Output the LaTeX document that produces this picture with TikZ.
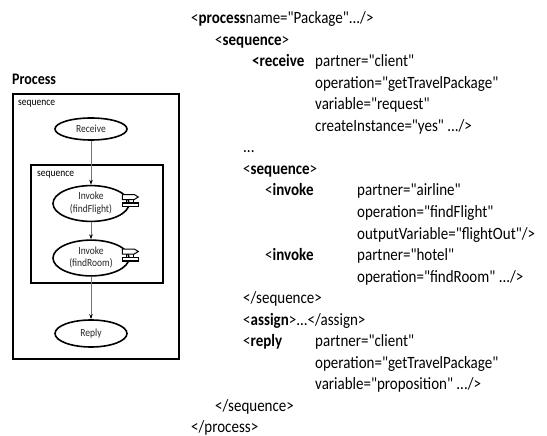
\documentclass[tikz,border=0pt]{standalone}
\usepackage{fontspec}
\setmainfont{Carlito}[Ligatures=TeXOff]
\usetikzlibrary{arrows.meta,shapes.geometric}

% the listing font is set a little taller than its natural shape
\newcommand{\stretchtxt}[1]{\scalebox{1}[1.15]{#1}}

\tikzset{
  frame/.style={draw=black, line width=2pt, inner sep=0pt, rectangle},
  activity/.style={ellipse, draw=black, line width=1.6pt, fill=white, inner sep=0pt,
    font=\fontsize{9.5}{11}\selectfont, text=black!85},
  seqlabel/.style={anchor=west, inner sep=0pt, font=\fontsize{9.5}{11}\selectfont},
  flow/.style={draw=black!55, line width=0.8pt,
    -{Stealth[length=5pt,width=3.5pt,black]}},
  code/.style={anchor=base west, inner sep=0pt, font=\fontsize{15}{18}\selectfont},
  svcicon/.pic={
    \draw[line width=1pt, fill=white] (-8,-6) -- (4,-6) -- (8,-3.5) -- (4,-1) -- (-8,-1) -- cycle;
    \draw[line width=1.3pt] (-4,-1) -- (-4,2.5) (3,-1) -- (3,2.5);
    \draw[line width=1.2pt, fill=white] (-8,2.5) rectangle (8,6);
  }
}

\begin{document}
\begin{tikzpicture}[x=1pt, y=-1pt]
\useasboundingbox (0,0) rectangle (547,436);

% ---- process view ----
\node[anchor=west, inner sep=0pt, font=\bfseries\fontsize{14}{16}\selectfont] (title) at (12,79) {\stretchtxt{Process}};
\node[frame, minimum width=166pt, minimum height=265pt] (outer) at (96,226.5) {};
\node[seqlabel] (outerlbl) at (18,104) {\stretchtxt{sequence}};
\node[frame, minimum width=132pt, minimum height=118pt] (inner) at (97,224) {};
\node[seqlabel] (innerlbl) at (37,175) {\stretchtxt{sequence}};

\node[activity, minimum width=72pt, minimum height=22pt] (recv) at (91,129) {\stretchtxt{Receive}};
\node[activity, minimum width=76pt, minimum height=32pt] (ff) at (91,203.5)
  {\stretchtxt{\begin{tabular}{@{}c@{}}Invoke\\(findFlight)\end{tabular}}};
\node[activity, minimum width=76pt, minimum height=30pt] (fr) at (91,258)
  {\stretchtxt{\begin{tabular}{@{}c@{}}Invoke\\(findRoom)\end{tabular}}};
\node[activity, minimum width=72pt, minimum height=27pt] (reply) at (91,333.5) {\stretchtxt{Reply}};

\pic at ([xshift=0.5pt, yshift=3pt]ff.east) {svcicon};
\pic at ([xshift=0.5pt, yshift=3pt]fr.east) {svcicon};

\draw[flow] (recv) -- (ff);
\draw[flow] (ff) -- (fr);
\draw[flow] (fr) -- (reply);

% ---- BPEL listing ----
\node[code] (c0)  at (191,24)    {\stretchtxt{<\textbf{process}name="Package".../>}};
\node[code] (c1)  at (215,45.5)  {\stretchtxt{<\textbf{sequence}>}};
\node[code] (c2)  at (252,67)    {\stretchtxt{\textbf{<receive}}};
\node[code] (c2a) at (315,67)    {\stretchtxt{partner="client"}};
\node[code] (c3)  at (315,88.5)  {\stretchtxt{operation="getTravelPackage"}};
\node[code] (c4)  at (315,110)   {\stretchtxt{variable="request"}};
\node[code] (c5)  at (315,131.5) {\stretchtxt{createInstance="yes" .../>}};
\node[code] (c6)  at (243,153)   {\stretchtxt{...}};
\node[code] (c7)  at (243,174.5) {\stretchtxt{<\textbf{sequence}>}};
\node[code] (c8)  at (265,196)   {\stretchtxt{<\textbf{invoke}}};
\node[code] (c8a) at (357,196)   {\stretchtxt{partner="airline"}};
\node[code] (c9)  at (357,217.5) {\stretchtxt{operation="findFlight"}};
\node[code] (c10) at (357,239)   {\stretchtxt{outputVariable="flightOut"/>}};
\node[code] (c11) at (265,260.5) {\stretchtxt{<\textbf{invoke}}};
\node[code] (c11a) at (357,260.5) {\stretchtxt{partner="hotel"}};
\node[code] (c12) at (357,282)   {\stretchtxt{operation="findRoom" .../>}};
\node[code] (c13) at (243,303.5) {\stretchtxt{</sequence>}};
\node[code] (c14) at (243,325)   {\stretchtxt{<\textbf{assign}>...</assign>}};
\node[code] (c15) at (243,346.5) {\stretchtxt{<\textbf{reply}}};
\node[code] (c15a) at (315,346.5) {\stretchtxt{partner="client"}};
\node[code] (c16) at (315,368)   {\stretchtxt{operation="getTravelPackage"}};
\node[code] (c17) at (315,389.5) {\stretchtxt{variable="proposition" .../>}};
\node[code] (c18) at (215,411)   {\stretchtxt{</sequence>}};
\node[code] (c19) at (191,432.5) {\stretchtxt{</process>}};
\end{tikzpicture}
\end{document}
